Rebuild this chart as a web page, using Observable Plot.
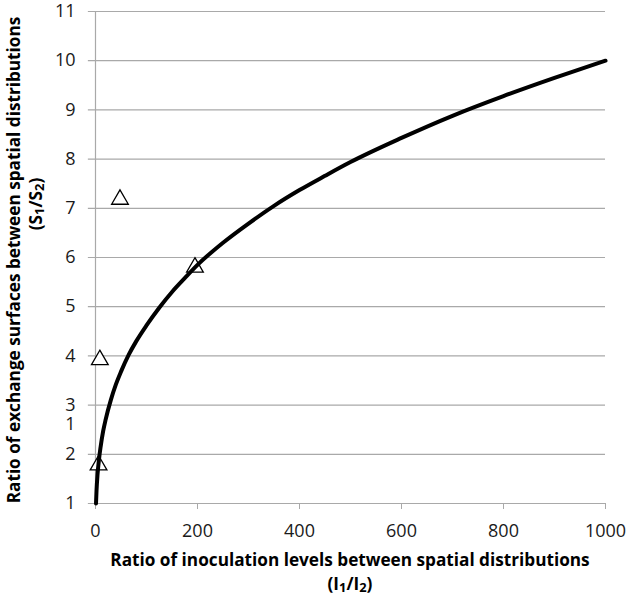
<!DOCTYPE html>
<html>
<head>
<meta charset="utf-8">
<script src="https://cdn.jsdelivr.net/npm/d3@7"></script>
<script src="https://cdn.jsdelivr.net/npm/@observablehq/plot@0.6"></script>
<style>
  html, body { margin: 0; padding: 0; background: #fff; }
  #chart svg { display: block; }
</style>
</head>
<body>
<div id="chart"></div>
<script>
// Fitted curve
const curveX = [1, 2, 4, 7, 10, 15, 20, 30, 40, 50, 65, 80, 100, 125, 150, 175, 200, 250, 300, 350, 400, 450, 500, 600, 700, 800, 900, 1000];
const curveY = [1.0, 1.26, 1.59, 1.91, 2.15, 2.47, 2.71, 3.1, 3.42, 3.68, 4.02, 4.3, 4.62, 4.98, 5.3, 5.58, 5.85, 6.3, 6.69, 7.05, 7.37, 7.66, 7.94, 8.43, 8.88, 9.28, 9.65, 10.0];
// Observed points (triangles)
const obsX = [6, 8.5, 48, 195];
const obsY = [1.78, 3.92, 7.18, 5.8];
// Axis ticks
const xTicks = [0, 200, 400, 600, 800, 1000];
const yTicks = [1, 2, 3, 4, 5, 6, 7, 8, 9, 10, 11];
// Stray label seen left of the y axis
const strayLabel = [{y: 2.62, text: "1"}];

const xTitle = "Ratio of inoculation levels between spatial distributions";
const yTitle = "Ratio of exchange surfaces between spatial distributions";

const curve = curveX.map((x, i) => ({x, y: curveY[i]}));
const obs = obsX.map((x, i) => ({x, y: obsY[i]}));

const FONT = "'Open Sans', 'Noto Sans', sans-serif";
const GRID = "#a9a9a9";
const TICKFS = 18;

const chart = Plot.plot({
  width: 631,
  height: 603,
  marginLeft: 95,
  marginRight: 26,
  marginTop: 11,
  marginBottom: 100,
  style: {fontFamily: FONT, fontSize: TICKFS + "px", color: "#1a1a1a", background: "#fff"},
  x: {domain: [0, 1000], ticks: xTicks, label: null},
  y: {domain: [1, 11], ticks: yTicks, label: null},
  marks: [
    Plot.ruleY(yTicks, {stroke: GRID, strokeWidth: 1.2, x1: -14, x2: 1000, clip: false}),
    Plot.ruleX([0], {stroke: GRID, strokeWidth: 1.2}),
    Plot.axisX({ticks: xTicks, tickFormat: d3.format("d"), tickSize: 6, tickPadding: 15, stroke: GRID, fill: "#1a1a1a", fontSize: TICKFS}),
    Plot.axisY({ticks: yTicks, tickFormat: d3.format("d"), tickSize: 0, tickPadding: 20, fill: "#1a1a1a", fontSize: TICKFS}),
    Plot.text(strayLabel, {y: "y", text: "text", frameAnchor: "left", dx: -20, textAnchor: "end", fill: "#1a1a1a", fontSize: TICKFS}),
    Plot.dot(obs, {x: "x", y: "y", symbol: "triangle", r: 6.2, stroke: "#000", fill: "#fff", strokeWidth: 1.3}),
    Plot.line(curve, {x: "x", y: "y", stroke: "#000", strokeWidth: 4, curve: "monotone-x"})
  ]
});

document.getElementById("chart").appendChild(chart);

// Axis titles with subscripts
const svg = d3.select(chart);
const sx = chart.scale("x"), sy = chart.scale("y");
const xc = (sx.apply(0) + sx.apply(1000)) / 2;
const yBottom = sy.apply(1);

function subTitle(g, parts) {
  parts.forEach(([t, sub]) => {
    const ts = g.append("tspan").text(t);
    if (sub) ts.attr("baseline-shift", "-25%").attr("font-size", "75%");
  });
}

const tg = svg.append("g").attr("font-family", FONT).attr("font-weight", "bold").attr("fill", "#000").attr("font-size", 17.2);

tg.append("text").attr("x", xc).attr("y", yBottom + 58).attr("text-anchor", "middle").attr("dominant-baseline", "middle").text(xTitle);
subTitle(tg.append("text").attr("x", xc).attr("y", yBottom + 82).attr("text-anchor", "middle").attr("dominant-baseline", "middle"),
  [["(I"], ["1", true], ["/I"], ["2", true], [")"]]);

const yc = (sy.apply(1) + sy.apply(11)) / 2 + 3;
tg.append("text").attr("transform", `translate(15,${yc}) rotate(-90)`).attr("text-anchor", "middle").attr("dominant-baseline", "middle").text(yTitle);
subTitle(tg.append("text").attr("transform", `translate(37,204) rotate(-90)`).attr("text-anchor", "middle").attr("dominant-baseline", "middle"),
  [["(S"], ["1", true], ["/S"], ["2", true], [")"]]);
</script>
</body>
</html>
